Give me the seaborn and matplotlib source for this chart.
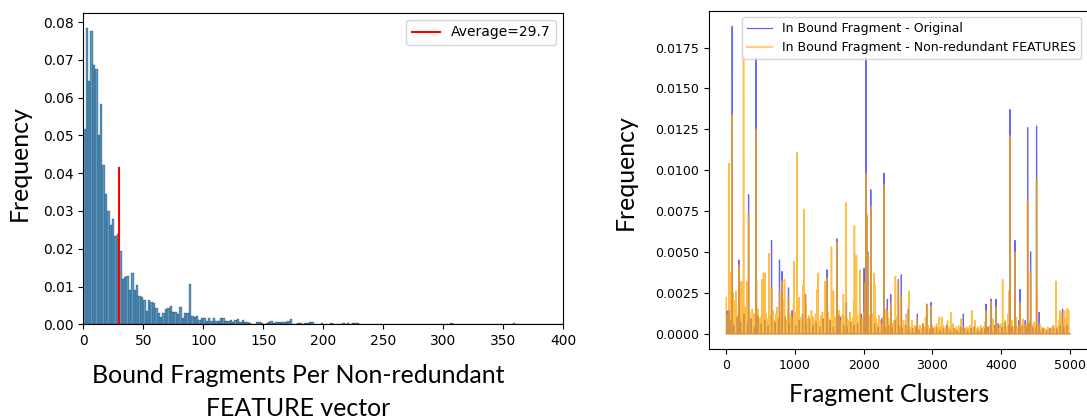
import numpy as np
import pandas as pd
import matplotlib.pyplot as plt
import seaborn as sns

# ---- left panel: bound fragments per non-redundant FEATURE vector (bin width 2) ----
bin_width = 2
hist_heights = [
    0.0517, 0.0785, 0.0643, 0.0776, 0.0686, 0.0677, 0.0501, 0.0583, 0.0421, 0.0345,
    0.0300, 0.0263, 0.0280, 0.0234, 0.0238, 0.0194, 0.0119, 0.0124, 0.0128, 0.0091,
    0.0135, 0.0091, 0.0104, 0.0075, 0.0073, 0.0064, 0.0036, 0.0064, 0.0060, 0.0057,
    0.0042, 0.0029, 0.0020, 0.0031, 0.0041, 0.0042, 0.0048, 0.0033, 0.0033, 0.0027,
    0.0047, 0.0016, 0.0029, 0.0031, 0.0108, 0.0022, 0.0019, 0.0022, 0.0011, 0.0016,
    0.0016, 0.0010, 0.0018, 0.0010, 0.0016, 0.0010, 0.0010, 0.0018, 0.0016, 0.0010,
    0.0008, 0.0011, 0.0007, 0.0011, 0.0013, 0.0007, 0.0011, 0.0007, 0.0007, 0.0003,
    0.0000, 0.0000, 0.0006, 0.0006, 0.0004, 0.0000, 0.0004, 0.0006, 0.0008, 0.0004,
    0.0006, 0.0005, 0.0006, 0.0005, 0.0006, 0.0008, 0.0015, 0.0000, 0.0000, 0.0003,
    0.0003, 0.0000, 0.0004, 0.0004, 0.0006, 0.0006, 0.0002, 0.0000, 0.0000, 0.0003,
]
# sparse tail beyond 200
tail_left = [206, 210, 216, 220, 224, 226, 228, 236, 240, 250, 262, 270, 280,
             284, 290, 300, 306, 318, 330, 348, 358, 362]
tail_heights = [0.0004, 0.0002, 0.0003, 0.0003, 0.0004, 0.0004, 0.0003, 0.0002,
                0.0002, 0.0001, 0.0001, 0.0001, 0.0002, 0.0001, 0.0001, 0.0001,
                0.0003, 0.0001, 0.0001, 0.0001, 0.0003, 0.0001]
average = 29.7
average_line_top = 0.0415

# ---- right panel: frequency per fragment cluster ----
n_clusters = 5000
peak_idx = [39, 68, 87, 184, 223, 252, 325, 431, 543, 620, 659, 775, 814, 848, 906,
            984, 1027, 1129, 1153, 1332, 1439, 1468, 1531, 1609, 1638, 1705, 1739, 1749,
            1865, 1894, 1948, 2007, 2020, 2035, 2045, 2059, 2103, 2151, 2297, 2345, 2393,
            2461, 2505, 2548, 2650, 2660, 2781, 2917, 2980, 3135, 3266, 3450, 3571, 3779,
            3852, 3924, 4021, 4113, 4128, 4200, 4273, 4351, 4385, 4428, 4515, 4525, 4554,
            4797, 4855, 4893, 4976]
orig_peak = [0.0014, 0.0, 0.0188, 0.0045, 0.0, 0.0, 0.0085, 0.0169, 0.0, 0.0, 0.0057,
             0.0045, 0.0038, 0.0, 0.0028, 0.0, 0.0, 0.0, 0.0024, 0.0, 0.0, 0.0039, 0.0,
             0.0058, 0.0011, 0.0, 0.0, 0.0019, 0.0, 0.0, 0.0, 0.0040, 0.0039, 0.0169,
             0.0072, 0.0050, 0.0088, 0.0, 0.0098, 0.0021, 0.0024, 0.0, 0.0033, 0.0036,
             0.0015, 0.0, 0.0012, 0.0018, 0.0019, 0.0, 0.0, 0.0012, 0.0, 0.0018, 0.0021,
             0.0021, 0.0, 0.0, 0.0137, 0.0057, 0.0027, 0.0008, 0.0126, 0.0050, 0.0127,
             0.0, 0.0013, 0.0, 0.0, 0.0015, 0.0]
nr_peak = [0.0104, 0.0037, 0.0134, 0.0042, 0.0032, 0.0170, 0.0073, 0.0125, 0.0037, 0.0049,
           0.0028, 0.0025, 0.0032, 0.0033, 0.0022, 0.0044, 0.0111, 0.0076, 0.0024, 0.0037,
           0.0032, 0.0034, 0.0053, 0.0056, 0.0, 0.0024, 0.0080, 0.0, 0.0066, 0.0048,
           0.0039, 0.0, 0.0031, 0.0098, 0.0073, 0.0048, 0.0078, 0.0037, 0.0091, 0.0014,
           0.0019, 0.0035, 0.0032, 0.0023, 0.0, 0.0026, 0.0, 0.0018, 0.0017, 0.0010,
           0.0013, 0.0, 0.0014, 0.0014, 0.0020, 0.0016, 0.0033, 0.0026, 0.0121, 0.0050,
           0.0019, 0.0, 0.0082, 0.0038, 0.0094, 0.0024, 0.0, 0.0032, 0.0014, 0.0, 0.0015]

# low background level, one reading every 20 clusters (non-redundant)
nr_base = [
    0.0022, 0.0012, 0.0025, 0.0037, 0.0015, 0.0025, 0.0020, 0.0026, 0.0011, 0.0018,
    0.0031, 0.0025, 0.0014, 0.0009, 0.0016, 0.0032, 0.0012, 0.0013, 0.0008, 0.0015,
    0.0012, 0.0010, 0.0033, 0.0015, 0.0009,
    0.0010, 0.0033, 0.0008, 0.0037, 0.0012, 0.0009, 0.0020, 0.0011, 0.0027, 0.0014,
    0.0008, 0.0012, 0.0016, 0.0010, 0.0007, 0.0013, 0.0009, 0.0021, 0.0011, 0.0008,
    0.0015, 0.0010, 0.0012, 0.0009, 0.0018,
    0.0013, 0.0009, 0.0014, 0.0022, 0.0010, 0.0008, 0.0030, 0.0012, 0.0018, 0.0009,
    0.0011, 0.0007, 0.0014, 0.0010, 0.0008, 0.0012, 0.0027, 0.0009, 0.0007, 0.0011,
    0.0013, 0.0008, 0.0010, 0.0007, 0.0013,
    0.0009, 0.0008, 0.0012, 0.0026, 0.0010, 0.0007, 0.0009, 0.0014, 0.0008, 0.0011,
    0.0007, 0.0010, 0.0025, 0.0009, 0.0008, 0.0013, 0.0007, 0.0010, 0.0021, 0.0009,
    0.0011, 0.0007, 0.0014, 0.0008, 0.0010,
    0.0013, 0.0020, 0.0016, 0.0024, 0.0011, 0.0008, 0.0012, 0.0007, 0.0030, 0.0009,
    0.0006, 0.0011, 0.0008, 0.0006, 0.0010, 0.0007, 0.0015, 0.0006, 0.0009, 0.0005,
    0.0013, 0.0006, 0.0008, 0.0005, 0.0010,
    0.0007, 0.0005, 0.0009, 0.0004, 0.0008, 0.0005, 0.0012, 0.0004, 0.0006, 0.0004,
    0.0008, 0.0003, 0.0005, 0.0004, 0.0009, 0.0003, 0.0005, 0.0003, 0.0006, 0.0004,
    0.0010, 0.0003, 0.0005, 0.0003, 0.0004,
    0.0005, 0.0003, 0.0004, 0.0006, 0.0003, 0.0010, 0.0004, 0.0003, 0.0005, 0.0003,
    0.0004, 0.0008, 0.0003, 0.0004, 0.0003, 0.0006, 0.0003, 0.0004, 0.0002, 0.0005,
    0.0003, 0.0009, 0.0003, 0.0004, 0.0003,
    0.0004, 0.0003, 0.0005, 0.0002, 0.0004, 0.0003, 0.0008, 0.0003, 0.0004, 0.0002,
    0.0005, 0.0003, 0.0004, 0.0007, 0.0003, 0.0004, 0.0002, 0.0005, 0.0003, 0.0009,
    0.0004, 0.0003, 0.0006, 0.0003, 0.0005,
    0.0006, 0.0009, 0.0005, 0.0008, 0.0004, 0.0012, 0.0006, 0.0005, 0.0008, 0.0004,
    0.0006, 0.0010, 0.0004, 0.0005, 0.0007, 0.0004, 0.0009, 0.0005, 0.0006, 0.0004,
    0.0008, 0.0004, 0.0006, 0.0005, 0.0007,
    0.0005, 0.0008, 0.0004, 0.0006, 0.0003, 0.0004, 0.0002, 0.0003, 0.0002, 0.0004,
    0.0003, 0.0002, 0.0004, 0.0005, 0.0003, 0.0006, 0.0004, 0.0008, 0.0005, 0.0012,
    0.0006, 0.0014, 0.0009, 0.0015, 0.0014,
]
# low background level, one reading every 50 clusters (original)
orig_base = [
    0.0014, 0.0008, 0.0005, 0.0010, 0.0007, 0.0012, 0.0006, 0.0009, 0.0004, 0.0011,
    0.0006, 0.0008, 0.0005, 0.0012, 0.0007, 0.0009, 0.0005, 0.0010, 0.0006, 0.0014,
    0.0005, 0.0008, 0.0012, 0.0006, 0.0009,
    0.0005, 0.0007, 0.0004, 0.0009, 0.0005, 0.0008, 0.0004, 0.0006, 0.0010, 0.0005,
    0.0004, 0.0007, 0.0005, 0.0006, 0.0012, 0.0005, 0.0008, 0.0004, 0.0006, 0.0004,
    0.0009, 0.0004, 0.0005, 0.0004, 0.0008,
    0.0004, 0.0003, 0.0005, 0.0002, 0.0003, 0.0004, 0.0002, 0.0006, 0.0003, 0.0002,
    0.0003, 0.0004, 0.0002, 0.0003, 0.0005, 0.0002, 0.0003, 0.0002, 0.0004, 0.0003,
    0.0002, 0.0003, 0.0004, 0.0002, 0.0003,
    0.0003, 0.0004, 0.0002, 0.0005, 0.0006, 0.0004, 0.0007, 0.0005, 0.0004, 0.0006,
    0.0008, 0.0005, 0.0004, 0.0006, 0.0004, 0.0003, 0.0002, 0.0003, 0.0002, 0.0003,
    0.0004, 0.0003, 0.0005, 0.0004, 0.0005,
]

# ---- assemble data ----
hist_left = list(np.arange(0, len(hist_heights) * bin_width, bin_width)) + tail_left
hist_df = pd.DataFrame({'frag': np.array(hist_left) + bin_width / 2,
                        'freq': hist_heights + tail_heights})

orig = np.zeros(n_clusters)
nr = np.zeros(n_clusters)
nr[np.arange(len(nr_base)) * 20] = nr_base
orig[np.arange(len(orig_base)) * 50 + 10] = orig_base
for i, o, f in zip(peak_idx, orig_peak, nr_peak):
    if o > 0:
        orig[i] = o
    if f > 0:
        nr[i] = f
clusters = np.arange(n_clusters)

label_font = 'Lato'
big = 17.9

fig = plt.figure(figsize=(10.87, 4.19), dpi=100)

# left
ax1 = fig.add_axes([0.0766, 0.226, 0.4413, 0.743])
sns.histplot(data=hist_df, x='frag', weights='freq', binwidth=bin_width,
             binrange=(0, 400), ax=ax1)
ax1.plot([average, average], [0, average_line_top], color='red', lw=1.5,
         label=f'Average={average}')
ax1.set_xlim(0, 400)
ax1.set_ylabel('')
ax1.set_xlabel('')
ax1.tick_params(labelsize=10)
ax1.legend(loc='upper right', fontsize=10)

# right
ax2 = fig.add_axes([0.6523, 0.167, 0.3477, 0.807])
sns.lineplot(x=clusters, y=orig, color='blue', alpha=0.6, lw=0.9,
             label='In Bound Fragment - Original', ax=ax2)
sns.lineplot(x=clusters, y=nr, color='orange', alpha=0.72, lw=1.1,
             label='In Bound Fragment - Non-redundant FEATURES', ax=ax2)
ax2.spines['right'].set_visible(False)
ax2.set_xticks([0, 1000, 2000, 3000, 4000, 5000])
ax2.set_yticks([0, 0.0025, 0.005, 0.0075, 0.01, 0.0125, 0.015, 0.0175])
ax2.set_ylabel('')
ax2.set_xlabel('')
ax2.tick_params(labelsize=9)
leg = ax2.legend(loc='upper right', fontsize=9)
leg.get_lines()[1].set_alpha(0.5)
leg.get_lines()[1].set_linewidth(1.6)

# large labels
fig.text(0.0175, 0.61, 'Frequency', rotation=90, fontsize=big, family=label_font,
         ha='center', va='center')
fig.text(0.274, 0.0852, 'Bound Fragments Per Non-redundant', fontsize=big,
         family=label_font, ha='center', va='baseline')
fig.text(0.274, 0.008, 'FEATURE vector', fontsize=big, family=label_font,
         ha='center', va='baseline')
fig.text(0.575, 0.589, 'Frequency', rotation=90, fontsize=big, family=label_font,
         ha='center', va='center')
fig.text(0.818, 0.040, 'Fragment Clusters', fontsize=big, family=label_font,
         ha='center', va='baseline')

fig.savefig('out.png', dpi=100)
